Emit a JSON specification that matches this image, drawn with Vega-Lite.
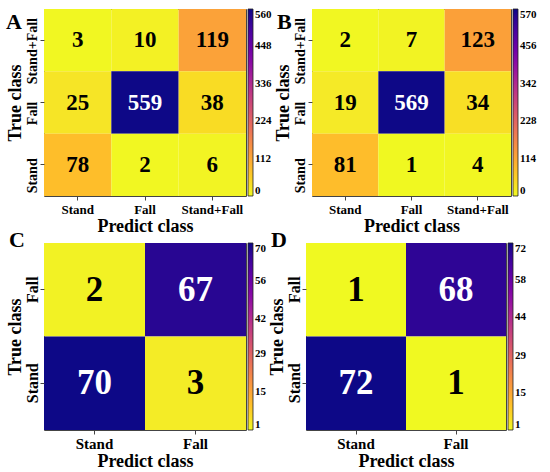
{
  "$schema": "https://vega.github.io/schema/vega-lite/v6.json",
  "padding": {"left": 5, "top": 8, "right": 0, "bottom": 0},
  "background": "white",
  "datasets": {
    "A": [
      {"true": "Stand+Fall", "pred": "Stand", "v": 3},
      {"true": "Stand+Fall", "pred": "Fall", "v": 10},
      {"true": "Stand+Fall", "pred": "Stand+Fall", "v": 119},
      {"true": "Fall", "pred": "Stand", "v": 25},
      {"true": "Fall", "pred": "Fall", "v": 559},
      {"true": "Fall", "pred": "Stand+Fall", "v": 38},
      {"true": "Stand", "pred": "Stand", "v": 78},
      {"true": "Stand", "pred": "Fall", "v": 2},
      {"true": "Stand", "pred": "Stand+Fall", "v": 6}
    ],
    "B": [
      {"true": "Stand+Fall", "pred": "Stand", "v": 2},
      {"true": "Stand+Fall", "pred": "Fall", "v": 7},
      {"true": "Stand+Fall", "pred": "Stand+Fall", "v": 123},
      {"true": "Fall", "pred": "Stand", "v": 19},
      {"true": "Fall", "pred": "Fall", "v": 569},
      {"true": "Fall", "pred": "Stand+Fall", "v": 34},
      {"true": "Stand", "pred": "Stand", "v": 81},
      {"true": "Stand", "pred": "Fall", "v": 1},
      {"true": "Stand", "pred": "Stand+Fall", "v": 4}
    ],
    "C": [
      {"true": "Fall", "pred": "Stand", "v": 2},
      {"true": "Fall", "pred": "Fall", "v": 67},
      {"true": "Stand", "pred": "Stand", "v": 70},
      {"true": "Stand", "pred": "Fall", "v": 3}
    ],
    "D": [
      {"true": "Fall", "pred": "Stand", "v": 1},
      {"true": "Fall", "pred": "Fall", "v": 68},
      {"true": "Stand", "pred": "Stand", "v": 72},
      {"true": "Stand", "pred": "Fall", "v": 1}
    ]
  },
  "config": {
    "font": "Liberation Serif",
    "view": {"stroke": "#444", "strokeWidth": 1},
    "axis": {
      "labelFont": "Liberation Serif", "labelFontWeight": "bold", "labelFontSize": 13, "labelColor": "black",
      "titleFont": "Liberation Serif", "titleFontWeight": "bold", "titleFontSize": 18, "titleColor": "black",
      "tickColor": "#444", "tickSize": 4, "domain": false, "grid": false
    },
    "axisX": {"labelAngle": 0, "labelPadding": 3, "titlePadding": 1},
    "axisY": {"labelAngle": -90, "labelAlign": "center", "labelBaseline": "bottom", "labelPadding": 1, "titlePadding": 1},
    "legend": {
      "labelFont": "Liberation Serif", "labelFontWeight": "bold", "labelFontSize": 11, "labelColor": "black",
      "gradientThickness": 5, "gradientStrokeColor": "#222", "gradientStrokeWidth": 0.8,
      "offset": 2, "padding": 0, "labelOffset": 6
    },
    "title": {"font": "Liberation Serif", "fontWeight": "bold", "fontSize": 22, "color": "black", "anchor": "start", "frame": "bounds"}
  },
  "spacing": -8,
  "vconcat": [
    {
      "resolve": {"scale": {"color": "independent"}, "legend": {"color": "independent"}},
      "spacing": 0,
      "hconcat": [
        {
          "title": {"text": "A", "dx": 0, "dy": 29},
          "data": {"name": "A"},
          "width": 202, "height": 187,
          "encoding": {
            "x": {"field": "pred", "type": "nominal", "sort": ["Stand", "Fall", "Stand+Fall"], "title": "Predict class", "scale": {"paddingInner": 0, "paddingOuter": 0}},
            "y": {"field": "true", "type": "nominal", "sort": ["Stand+Fall", "Fall", "Stand"], "title": "True class", "scale": {"paddingInner": 0, "paddingOuter": 0}, "axis": {"labelFontSize": 14, "labelOffset": 11}}
          },
          "layer": [
            {"mark": {"type": "rect"}, "encoding": {"color": {"field": "v", "type": "quantitative", "scale": {"scheme": "plasma", "reverse": true, "domain": [0, 560]}, "legend": {"title": null, "gradientLength": 187, "values": [0, 112, 224, 336, 448, 560]}}}},
            {"mark": {"type": "text", "fontSize": 23, "fontWeight": "bold", "font": "Liberation Serif", "baseline": "middle"}, "encoding": {"text": {"field": "v", "type": "quantitative"}, "color": {"condition": {"test": "datum.v > 300", "value": "white"}, "value": "black"}}}
          ]
        },
        {
          "title": {"text": "B", "dx": 3, "dy": 29},
          "data": {"name": "B"},
          "width": 199, "height": 187,
          "encoding": {
            "x": {"field": "pred", "type": "nominal", "sort": ["Stand", "Fall", "Stand+Fall"], "title": "Predict class", "scale": {"paddingInner": 0, "paddingOuter": 0}},
            "y": {"field": "true", "type": "nominal", "sort": ["Stand+Fall", "Fall", "Stand"], "title": "True class", "scale": {"paddingInner": 0, "paddingOuter": 0}, "axis": {"labelFontSize": 14, "labelOffset": 11}}
          },
          "layer": [
            {"mark": {"type": "rect"}, "encoding": {"color": {"field": "v", "type": "quantitative", "scale": {"scheme": "plasma", "reverse": true, "domain": [0, 570]}, "legend": {"title": null, "gradientLength": 187, "values": [0, 114, 228, 342, 456, 570]}}}},
            {"mark": {"type": "text", "fontSize": 23, "fontWeight": "bold", "font": "Liberation Serif", "baseline": "middle"}, "encoding": {"text": {"field": "v", "type": "quantitative"}, "color": {"condition": {"test": "datum.v > 300", "value": "white"}, "value": "black"}}}
          ]
        }
      ]
    },
    {
      "resolve": {"scale": {"color": "independent"}, "legend": {"color": "independent"}},
      "spacing": 0,
      "hconcat": [
        {
          "title": {"text": "C", "dx": 3, "dy": 13},
          "data": {"name": "C"},
          "width": 202, "height": 187,
          "encoding": {
            "x": {"field": "pred", "type": "nominal", "sort": ["Stand", "Fall"], "title": "Predict class", "scale": {"paddingInner": 0, "paddingOuter": 0}, "axis": {"labelFontSize": 15, "labelPadding": 2}},
            "y": {"field": "true", "type": "nominal", "sort": ["Fall", "Stand"], "title": "True class", "scale": {"paddingInner": 0, "paddingOuter": 0}, "axis": {"labelFontSize": 16, "labelPadding": 0, "titlePadding": 0}}
          },
          "layer": [
            {"mark": {"type": "rect"}, "encoding": {"color": {"field": "v", "type": "quantitative", "scale": {"scheme": "plasma", "reverse": true, "domain": [1, 70]}, "legend": {"title": null, "gradientLength": 187, "values": [1, 15, 29, 42, 56, 70]}}}},
            {"mark": {"type": "text", "fontSize": 35, "fontWeight": "bold", "font": "Liberation Serif", "baseline": "middle"}, "encoding": {"text": {"field": "v", "type": "quantitative"}, "color": {"condition": {"test": "datum.v > 35", "value": "white"}, "value": "black"}}}
          ]
        },
        {
          "title": {"text": "D", "dx": 3, "dy": 13},
          "data": {"name": "D"},
          "width": 200, "height": 187,
          "encoding": {
            "x": {"field": "pred", "type": "nominal", "sort": ["Stand", "Fall"], "title": "Predict class", "scale": {"paddingInner": 0, "paddingOuter": 0}, "axis": {"labelFontSize": 15, "labelPadding": 2}},
            "y": {"field": "true", "type": "nominal", "sort": ["Fall", "Stand"], "title": "True class", "scale": {"paddingInner": 0, "paddingOuter": 0}, "axis": {"labelFontSize": 16, "labelPadding": 0, "titlePadding": 0}}
          },
          "layer": [
            {"mark": {"type": "rect"}, "encoding": {"color": {"field": "v", "type": "quantitative", "scale": {"scheme": "plasma", "reverse": true, "domain": [1, 72]}, "legend": {"title": null, "gradientLength": 187, "values": [1, 15, 29, 44, 58, 72]}}}},
            {"mark": {"type": "text", "fontSize": 35, "fontWeight": "bold", "font": "Liberation Serif", "baseline": "middle"}, "encoding": {"text": {"field": "v", "type": "quantitative"}, "color": {"condition": {"test": "datum.v > 35", "value": "white"}, "value": "black"}}}
          ]
        }
      ]
    }
  ]
}
